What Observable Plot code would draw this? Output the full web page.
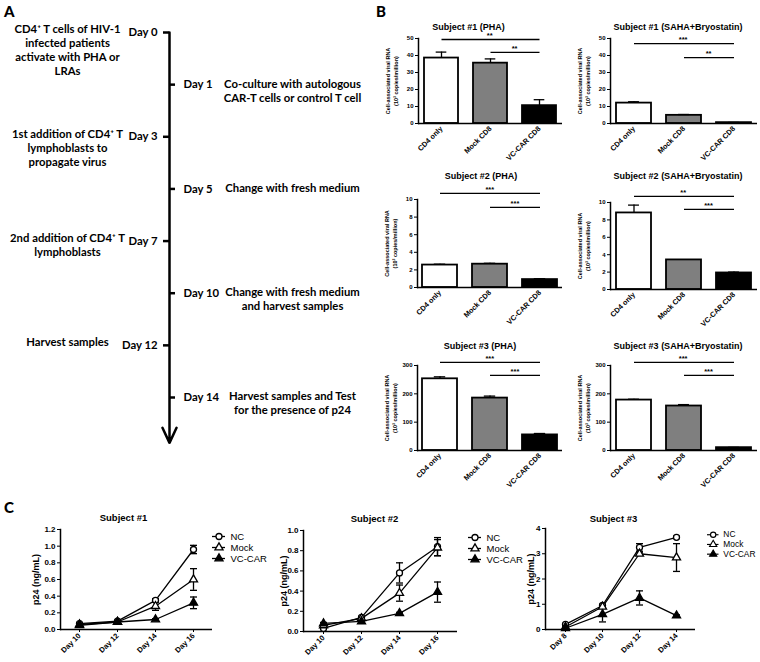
<!DOCTYPE html>
<html><head><meta charset="utf-8">
<script src="https://cdn.jsdelivr.net/npm/d3@7"></script>
<script src="https://cdn.jsdelivr.net/npm/@observablehq/plot@0.6"></script>
<style>
body{margin:0;background:#fff;}
#fig{position:relative;width:760px;height:662px;overflow:hidden;background:#fff;}
.panel{position:absolute;}
.letter{position:absolute;font-family:Lato,sans-serif;font-weight:900;font-size:15px;line-height:1;}
</style></head><body><div id="fig"></div>
<script>
// ---------- Panel A data ----------
const timelineDays = ["Day 0","Day 1","Day 3","Day 5","Day 7","Day 10","Day 12","Day 14"];
const timelineSides = ["left","right","left","right","left","right","left","right"];
const timelineText = [
  "CD4⁺ T cells of HIV-1\ninfected patients\nactivate with PHA or\nLRAs",
  "Co-culture with autologous\nCAR-T cells or control T cell",
  "1st addition of CD4⁺ T\nlymphoblasts to\npropagate virus",
  "Change with fresh medium",
  "2nd addition of CD4⁺ T\nlymphoblasts",
  "Change with fresh medium\nand harvest samples",
  "Harvest samples",
  "Harvest samples and Test\nfor the presence of p24"
];

// ---------- Panel B data ----------
const barGroups = ["CD4 only","Mock CD8","VC-CAR CD8"];
const barTitles = ["Subject #1 (PHA)","Subject #1 (SAHA+Bryostatin)","Subject #2 (PHA)","Subject #2 (SAHA+Bryostatin)","Subject #3 (PHA)","Subject #3 (SAHA+Bryostatin)"];
const barMeans  = [[38.5,35.5,10.5],[12,4.8,0.5],[2.55,2.65,0.9],[8.8,3.4,1.9],[253,185,55],[178,157,10]];
const barErrors = [[3.5,2.5,3.5],[0.8,0.5,0.1],[0.1,0.1,0.1],[0.9,0,0.1],[7,7,5],[3,5,1]];
const barYMax   = [50,50,10,10,300,300];
const barYTicks = [[0,10,20,30,40,50],[0,10,20,30,40,50],[0,2,4,6,8,10],[0,2,4,6,8,10],[0,100,200,300],[0,100,200,300]];
const sigLevels = [[49.4,41.8],[47,38.8],[10.7,9.1],[10.7,9.2],[311,265],[311,265]];
const sigLabels = [["**","**"],["***","**"],["***","***"],["**","***"],["***","***"],["***","***"]];
const barYLabel = "Cell-associated viral RNA\n(10³ copies/million)";

// ---------- Panel C data ----------
const p24Titles = ["Subject #1","Subject #2","Subject #3"];
const p24Days = [["Day 10","Day 12","Day 14","Day 16"],["Day 10","Day 12","Day 14","Day 16"],["Day 8","Day 10","Day 12","Day 14"]];
const p24Series = ["NC","Mock","VC-CAR"];
const p24NC      = [[0.07,0.10,0.35,0.96],[0.03,0.14,0.58,0.84],[0.2,0.95,3.25,3.65]];
const p24NCErr   = [[0.01,0.01,0.02,0.05],[0.01,0.01,0.10,0.09],[0.03,0.05,0.15,0.05]];
const p24Mock    = [[0.06,0.09,0.28,0.60],[0.06,0.13,0.38,0.83],[0.1,0.9,3.0,2.85]];
const p24MockErr = [[0.01,0.01,0.05,0.13],[0.01,0.01,0.08,0.08],[0.02,0.05,0.06,0.55]];
const p24Car     = [[0.05,0.09,0.12,0.32],[0.08,0.10,0.18,0.39],[0.05,0.6,1.25,0.55]];
const p24CarErr  = [[0.01,0.01,0.01,0.07],[0.01,0.01,0.01,0.10],[0.02,0.3,0.28,0.03]];
const p24YMax = [1.2,1.0,4];
const p24YTicks = [[0,0.2,0.4,0.6,0.8,1.0,1.2],[0,0.2,0.4,0.6,0.8,1.0],[0,1,2,3,4]];
const p24YLabel = "p24 (ng/mL)";

// ---------- helpers ----------
const fig = document.getElementById("fig");
function place(node, left, top) {
  const d = document.createElement("div");
  d.className = "panel"; d.style.left = left + "px"; d.style.top = top + "px";
  d.appendChild(node); fig.appendChild(d);
}
function letter(t, left, top) {
  const d = document.createElement("div");
  d.className = "letter"; d.textContent = t; d.style.left = left + "px"; d.style.top = top + "px";
  fig.appendChild(d);
}
const ARIAL = "'Liberation Sans', Arial, sans-serif";
const capSymbol = {draw(ctx, size) { const w = Math.sqrt(size / Math.PI); ctx.moveTo(-w, 0); ctx.lineTo(w, 0); }};

// ---------- Panel A ----------
{
  const events = timelineDays.map((day, i) => ({i, day, side: timelineSides[i], text: timelineText[i]}));
  const left = events.filter(d => d.side === "left"), right = events.filter(d => d.side === "right");
  const lineX = 169;
  const A = Plot.plot({
    width: 370, height: 450, margin: 0,
    style: {background: "transparent", fontFamily: "Lato, sans-serif", fontWeight: 700, fontSize: "11.3px", color: "black"},
    x: {domain: [0, 370], range: [0, 370], axis: null},
    y: {domain: [0, 7], range: [32, 397], axis: null},
    marks: [
      Plot.arrow([0], {x1: lineX, x2: lineX, y1: 0, y2: 7.87, bend: 0, headLength: 10, headAngle: 50, strokeWidth: 2.5, stroke: "black"}),
      Plot.ruleY(events, {y: "i", x1: d => d.side === "left" ? lineX - 6 : lineX, x2: d => d.side === "left" ? lineX : lineX + 6, strokeWidth: 2.5, stroke: "black"}),
      Plot.text(left, {x: lineX - 12, y: "i", text: "day", textAnchor: "end", fill: "black"}),
      Plot.text(right, {x: lineX + 14, y: "i", text: "day", textAnchor: "start", fill: "black"}),
      Plot.text(left, {x: 67, y: "i", text: "text", lineAnchor: "top", dy: -9, lineHeight: 1.24, fill: "black"}),
      Plot.text(right, {x: 292, y: "i", text: "text", lineAnchor: "top", dy: -7, lineHeight: 1.24, fill: "black"})
    ]
  });
  place(A, 0, 0);
}

// ---------- Panel B ----------
const barFills = ["white", "#7f7f7f", "black"];
const bLayout = [
  {left: 418, top: 38,  w: 144, h: 85, titleDx: -22, titleY: 23},
  {left: 610, top: 38,  w: 147, h: 85, titleDx: -6,  titleY: 23},
  {left: 417, top: 199, w: 145, h: 88, titleDx: -9,  titleY: 172},
  {left: 610, top: 202, w: 147, h: 87, titleDx: -6,  titleY: 172},
  {left: 417, top: 365, w: 145, h: 85, titleDx: -10, titleY: 342},
  {left: 610, top: 365, w: 147, h: 85, titleDx: -6,  titleY: 342}
];
function barChart(k) {
  const L = bLayout[k];
  const mL = 50, mT = 45, mR = 3, mB = 48;
  const n = barGroups.length, pi = 0.31, po = 0.1;
  const step = L.w / (n - pi + 2 * po);
  const bw = step * (1 - pi);
  const capIn = (bw - 11) / 2;
  const idx = g => barGroups.indexOf(g);
  const data = barGroups.map((g, i) => ({group: g, mean: barMeans[k][i], err: barErrors[k][i]}));
  const errs = data.filter(d => d.err > 0);
  const sigs = sigLevels[k].map((lv, j) => ({from: barGroups[j], to: barGroups[n - 1], level: lv, label: sigLabels[k][j]}));
  const sigMarks = sigs.flatMap(s => [
    Plot.link([s], {x1: "from", x2: "to", y1: "level", y2: "level", stroke: "black", strokeWidth: 1.3}),
    Plot.text([s], {x: "to", y: "level", text: "label", dx: -(idx(s.to) - idx(s.from)) * step / 2, dy: -4, fontSize: 7.5, fontWeight: "bold", fill: "black"})
  ]);
  return Plot.plot({
    width: mL + L.w + mR, height: mT + L.h + mB,
    marginLeft: mL, marginTop: mT, marginRight: mR, marginBottom: mB,
    style: {background: "transparent", fontFamily: ARIAL, fontWeight: "bold", fontSize: "6px", color: "black"},
    x: {domain: barGroups, paddingInner: pi, paddingOuter: po},
    y: {domain: [0, barYMax[k]]},
    color: {domain: barGroups, range: barFills},
    marks: [
      Plot.axisX({tickRotate: -45, tickSize: 0, tickPadding: 4, fontSize: 7.3, label: null}),
      Plot.axisY({ticks: barYTicks[k], tickSize: 3, tickPadding: 2, fontSize: 6, label: null}),
      Plot.barY(data, {x: "group", y: "mean", fill: "group", stroke: "black", strokeWidth: 1.8}),
      Plot.ruleX(errs, {x: "group", y1: "mean", y2: d => d.mean + d.err, stroke: "black", strokeWidth: 1.3}),
      Plot.tickY(errs, {x: "group", y: d => d.mean + d.err, insetLeft: capIn, insetRight: capIn, stroke: "black", strokeWidth: 1.3}),
      Plot.ruleY([0], {stroke: "black", strokeWidth: 1.5}),
      Plot.frame({anchor: "left", stroke: "black", strokeWidth: 1.5}),
      ...sigMarks,
      Plot.text([barTitles[k]], {frameAnchor: "top", dx: L.titleDx, dy: L.titleY - L.top, fontSize: 9, fontWeight: "bold", fill: "black"}),
      Plot.text([barYLabel], {y: barYMax[k] / 2, frameAnchor: "left", rotate: -90, dx: -27, textAnchor: "middle", lineAnchor: "middle", fontSize: 5.5, lineHeight: 1.35, fontWeight: "bold", fill: "black"})
    ]
  });
}
bLayout.forEach((L, k) => place(barChart(k), L.left - 50, L.top - 45));

// ---------- Panel C ----------
const p24Values = {"NC": p24NC, "Mock": p24Mock, "VC-CAR": p24Car};
const p24Errors = {"NC": p24NCErr, "Mock": p24MockErr, "VC-CAR": p24CarErr};
const markerSymbol = ["circle", "triangle", "triangle"];
const markerFill = ["white", "white", "black"];
const cLayout = [
  {left: 60,  top: 529, w: 152, h: 100, titleDx: -13, titleY: 514, labelDx: -24, fmt: ".1f", legX: 212, legTop: 530},
  {left: 303, top: 530, w: 154, h: 101, titleDx: -6,  titleY: 515, labelDx: -19, fmt: ".1f", legX: 468, legTop: 531},
  {left: 545, top: 528, w: 150, h: 101, titleDx: -7,  titleY: 515, labelDx: -14, fmt: "d",   legX: 707, legTop: 529}
];
function p24Chart(k) {
  const L = cLayout[k];
  const mL = 45, mT = 25, mR = 3, mB = 35;
  const days = p24Days[k];
  const rows = [];
  p24Series.forEach(s => days.forEach((d, di) => rows.push({series: s, day: d, value: p24Values[s][k][di], err: p24Errors[s][k][di]})));
  const errs = rows.filter(r => r.err > 0);
  const fmt = d3.format(L.fmt);
  return Plot.plot({
    width: mL + L.w + mR, height: mT + L.h + mB,
    marginLeft: mL, marginTop: mT, marginRight: mR, marginBottom: mB,
    style: {background: "transparent", fontFamily: ARIAL, fontWeight: "bold", fontSize: "7.5px", color: "black"},
    x: {type: "point", domain: days, padding: 0.5},
    y: {domain: [0, p24YMax[k]]},
    marks: [
      Plot.axisX({tickRotate: -45, tickSize: 3, tickPadding: 2, fontSize: 7.5, label: null}),
      Plot.axisY({ticks: p24YTicks[k], tickFormat: fmt, tickSize: 3, tickPadding: 2, fontSize: 8, label: null}),
      Plot.ruleY([0], {stroke: "black", strokeWidth: 1.5}),
      Plot.frame({anchor: "left", stroke: "black", strokeWidth: 1.5}),
      Plot.line(rows, {x: "day", y: "value", z: "series", stroke: "black", strokeWidth: 1.3}),
      Plot.ruleX(errs, {x: "day", y1: d => Math.max(0, d.value - d.err), y2: d => d.value + d.err, stroke: "black", strokeWidth: 1.3}),
      Plot.dot(errs, {x: "day", y: d => d.value + d.err, symbol: capSymbol, r: 3.5, fill: "none", stroke: "black", strokeWidth: 1.3}),
      Plot.dot(errs, {x: "day", y: d => Math.max(0, d.value - d.err), symbol: capSymbol, r: 3.5, fill: "none", stroke: "black", strokeWidth: 1.3}),
      ...p24Series.map((s, si) => Plot.dot(rows.filter(r => r.series === s), {x: "day", y: "value", symbol: markerSymbol[si], fill: markerFill[si], stroke: "black", strokeWidth: 1.3, r: 3})),
      Plot.text([p24Titles[k]], {frameAnchor: "top", dx: L.titleDx, dy: L.titleY - L.top, fontSize: 9.5, fontWeight: "bold", fill: "black"}),
      Plot.text([p24YLabel], {y: p24YMax[k] / 2, frameAnchor: "left", rotate: -90, dx: L.labelDx, textAnchor: "middle", lineAnchor: "middle", fontSize: 9, fontWeight: "bold", fill: "black"})
    ]
  });
}
function p24Legend() {
  return Plot.plot({
    width: 60, height: 34, marginLeft: 0, marginRight: 47, marginTop: 0, marginBottom: 0,
    style: {background: "transparent", fontFamily: ARIAL, fontSize: "9.5px", color: "black"},
    y: {type: "point", domain: p24Series, padding: 0.5, axis: null},
    marks: [
      Plot.ruleY(p24Series, {y: d => d, stroke: "black", strokeWidth: 1.3}),
      ...p24Series.map((s, si) => Plot.dot([s], {y: d => d, symbol: markerSymbol[si], fill: markerFill[si], stroke: "black", strokeWidth: 1.3, r: 3})),
      Plot.text(p24Series, {y: d => d, text: d => d, frameAnchor: "right", dx: 5, textAnchor: "start", fill: "black"})
    ]
  });
}
cLayout.forEach((L, k) => {
  place(p24Chart(k), L.left - 45, L.top - 25);
  place(p24Legend(), L.legX, L.legTop);
});

letter("A", 4, 4);
letter("B", 376, 4);
letter("C", 4, 500);
</script></body></html>
